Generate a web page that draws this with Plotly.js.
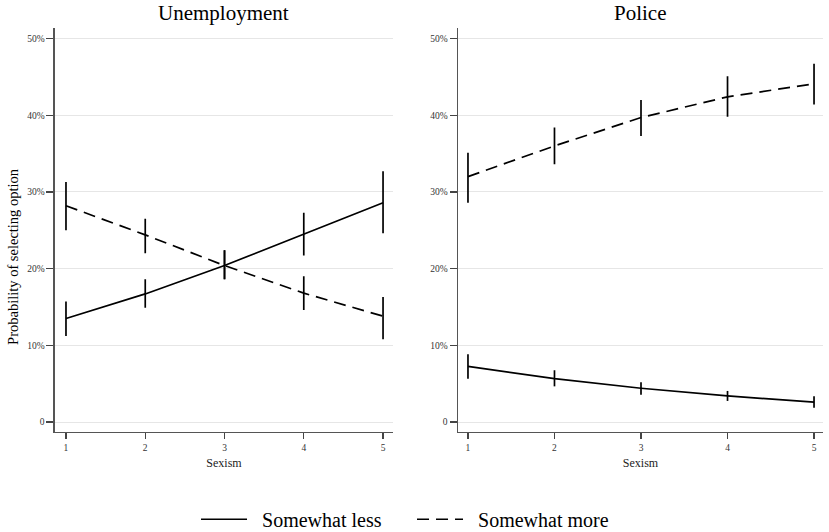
<!DOCTYPE html>
<html>
<head>
<meta charset="utf-8">
<script src="https://cdn.plot.ly/plotly-3.0.1.min.js"></script>
<style>
  html, body { margin: 0; padding: 0; background: #fff; }
  #chart { width: 829px; height: 532px; }
</style>
</head>
<body>
<div id="chart"></div>
<script>
// sexism scale
var sexism = [1, 2, 3, 4, 5];

// predicted probability (%) and 95% CI
var unempLess = [13.5, 16.7, 20.4, 24.5, 28.6];
var unempLessLo = [11.2, 14.9, 18.6, 21.7, 24.6];
var unempLessHi = [15.7, 18.6, 22.4, 27.3, 32.7];

var unempMore = [28.2, 24.4, 20.4, 16.8, 13.8];
var unempMoreLo = [25.0, 22.0, 18.6, 14.6, 10.8];
var unempMoreHi = [31.3, 26.5, 22.4, 19.0, 16.3];

var policeLess = [7.25, 5.65, 4.4, 3.4, 2.6];
var policeLessLo = [5.65, 4.65, 3.55, 2.75, 1.85];
var policeLessHi = [8.85, 6.75, 5.2, 4.05, 3.35];

var policeMore = [32.0, 36.0, 39.7, 42.4, 44.1];
var policeMoreLo = [28.6, 33.6, 37.3, 39.8, 41.4];
var policeMoreHi = [35.1, 38.4, 42.0, 45.1, 46.7];

var yTickVals = [0, 10, 20, 30, 40, 50];
var yTickText = ['0', '10%', '20%', '30%', '40%', '50%'];
var panelTitles = ['Unemployment', 'Police'];
var seriesNames = ['Somewhat less', 'Somewhat more'];

var SERIF = 'Liberation Serif, Times New Roman, serif';
var NB = '\u00a0\u00a0';

function diff(a, b) {
    return a.map(function(v, i) { return +(v - b[i]).toFixed(3); });
}

function makeTrace(y, lo, hi, name, dash, xa, ya, showLeg) {
    return {
        x: sexism,
        y: y,
        name: NB + name,
        type: 'scatter',
        mode: 'lines',
        xaxis: xa,
        yaxis: ya,
        showlegend: showLeg,
        line: { color: '#000', width: 1.7, dash: dash },
        error_y: {
            type: 'data',
            symmetric: false,
            array: diff(hi, y),
            arrayminus: diff(y, lo),
            width: 0,
            thickness: 1.7,
            color: '#000'
        }
    };
}

var DASH = '12px,7px';

var data = [
    makeTrace(unempLess, unempLessLo, unempLessHi, seriesNames[0], 'solid', 'x', 'y', true),
    makeTrace(unempMore, unempMoreLo, unempMoreHi, seriesNames[1], DASH, 'x', 'y', true),
    makeTrace(policeLess, policeLessLo, policeLessHi, seriesNames[0], 'solid', 'x2', 'y2', false),
    makeTrace(policeMore, policeMoreLo, policeMoreHi, seriesNames[1], DASH, 'x2', 'y2', false)
];

function xAxis(domain, range, anchor) {
    return {
        domain: domain,
        range: range,
        anchor: anchor,
        tickvals: sexism,
        ticks: 'outside',
        ticklen: 6,
        tickwidth: 1.2,
        tickcolor: '#444',
        showline: true,
        linecolor: '#555',
        linewidth: 1.5,
        showgrid: false,
        zeroline: false,
        tickfont: { family: SERIF, size: 9.5, color: '#333' },
        title: { text: 'Sexism', font: { family: SERIF, size: 12, color: '#222' }, standoff: 6 }
    };
}

function yAxis(anchor) {
    return {
        domain: [0.188, 0.947],
        range: [-1.3, 51.35],
        anchor: anchor,
        tickvals: yTickVals,
        ticktext: yTickText,
        ticks: 'outside',
        ticklen: 7,
        tickwidth: 1.2,
        tickcolor: '#444',
        showline: true,
        linecolor: '#555',
        linewidth: 1.5,
        showgrid: true,
        gridcolor: '#e6e6e6',
        gridwidth: 1,
        zeroline: false,
        tickfont: { family: SERIF, size: 9.5, color: '#333' }
    };
}

var layout = {
    width: 829,
    height: 532,
    margin: { l: 0, r: 0, t: 0, b: 0, autoexpand: false },
    paper_bgcolor: '#fff',
    plot_bgcolor: '#fff',
    font: { family: SERIF, color: '#000' },
    xaxis: xAxis([0.0663, 0.4741], [0.861, 5.126], 'y'),
    yaxis: yAxis('x'),
    xaxis2: xAxis([0.5525, 0.9928], [0.885, 5.104], 'y2'),
    yaxis2: yAxis('x2'),
    showlegend: true,
    legend: {
        orientation: 'h',
        x: 0.497,
        xanchor: 'center',
        y: 0.024,
        yanchor: 'middle',
        font: { family: SERIF, size: 20, color: '#000' },
        itemwidth: 46,
        entrywidth: 155,
        entrywidthmode: 'pixels',
        bgcolor: 'rgba(0,0,0,0)'
    },
    annotations: [
        {
            text: panelTitles[0], xref: 'x domain', yref: 'paper', x: 0.5, y: 0.976,
            xanchor: 'center', yanchor: 'middle', showarrow: false,
            font: { family: SERIF, size: 21, color: '#000' }
        },
        {
            text: panelTitles[1], xref: 'x2 domain', yref: 'paper', x: 0.5, y: 0.976,
            xanchor: 'center', yanchor: 'middle', showarrow: false,
            font: { family: SERIF, size: 21, color: '#000' }
        },
        {
            text: 'Probability of selecting option', xref: 'paper', yref: 'paper',
            x: 0.0163, y: 0.518, textangle: -90,
            xanchor: 'center', yanchor: 'middle', showarrow: false,
            font: { family: SERIF, size: 14.5, color: '#000' }
        }
    ]
};

Plotly.newPlot('chart', data, layout, { displayModeBar: false, staticPlot: true });
</script>
</body>
</html>
